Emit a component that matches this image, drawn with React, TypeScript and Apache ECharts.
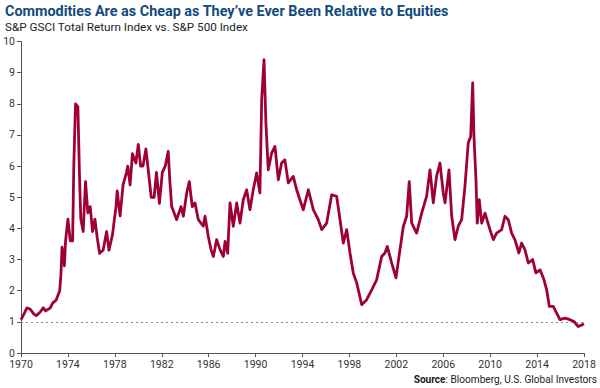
import React, { useEffect, useRef } from "react";
import * as echarts from "echarts";

const TITLE = "Commodities Are as Cheap as They’ve Ever Been Relative to Equities";
const SUBTITLE = "S&P GSCI Total Return Index vs. S&P 500 Index";
const SOURCE_LABEL = "Source";
const SOURCE_TEXT = ": Bloomberg, U.S. Global Investors";

const years: number[] = [
  1970.0, 1970.25, 1970.5, 1970.8, 1971.1, 1971.3, 1971.6, 1971.9, 1972.1, 1972.5,
  1972.7, 1973.0, 1973.3, 1973.4, 1973.5, 1973.7, 1973.8, 1974.0, 1974.2, 1974.4,
  1974.5, 1974.65, 1974.85, 1975.0, 1975.1, 1975.3, 1975.5, 1975.7, 1975.9, 1976.1,
  1976.3, 1976.5, 1976.7, 1977.0, 1977.3, 1977.5, 1977.8, 1978.1, 1978.2, 1978.45,
  1978.7, 1979.0, 1979.1, 1979.3, 1979.5, 1979.8, 1980.0, 1980.2, 1980.4, 1980.65,
  1980.9, 1981.1, 1981.35, 1981.55, 1981.8, 1982.05, 1982.3, 1982.55, 1982.7, 1982.85,
  1983.27, 1983.64, 1983.84, 1984.13, 1984.35, 1984.6, 1984.83, 1985.12, 1985.54, 1985.69,
  1985.97, 1986.2, 1986.4, 1986.68, 1986.97, 1987.25, 1987.4, 1987.62, 1987.82, 1988.1,
  1988.39, 1988.67, 1988.95, 1989.24, 1989.52, 1989.8, 1990.09, 1990.37, 1990.52, 1990.72,
  1990.88, 1991.08, 1991.37, 1991.65, 1991.94, 1992.22, 1992.5, 1992.79, 1993.21, 1993.5,
  1993.78, 1994.07, 1994.5, 1994.92, 1995.35, 1995.64, 1996.06, 1996.49, 1996.91, 1997.2,
  1997.48, 1997.77, 1998.05, 1998.33, 1998.62, 1999.05, 1999.47, 1999.9, 2000.32, 2000.75,
  2001.03, 2001.23, 2001.6, 2001.97, 2002.31, 2002.6, 2002.88, 2003.1, 2003.31, 2003.73,
  2004.16, 2004.58, 2004.87, 2005.15, 2005.43, 2005.72, 2006.0, 2006.15, 2006.49, 2006.72,
  2007.0, 2007.28, 2007.57, 2007.85, 2008.13, 2008.34, 2008.51, 2008.62, 2008.79, 2008.9,
  2009.07, 2009.28, 2009.56, 2009.98, 2010.27, 2010.55, 2010.98, 2011.26, 2011.54, 2011.83,
  2012.11, 2012.45, 2012.68, 2012.96, 2013.25, 2013.62, 2013.9, 2014.25, 2014.59, 2014.82,
  2015.04, 2015.38, 2015.67, 2015.95, 2016.38, 2016.8, 2017.14, 2017.51, 2017.8, 2018.0,
];

const ratios: number[] = [
  1.07, 1.25, 1.45, 1.4, 1.25, 1.2, 1.3, 1.45, 1.35, 1.45,
  1.6, 1.7, 2.0, 2.5, 3.4, 2.8, 3.6, 4.3, 3.6, 3.6,
  6.0, 8.0, 7.9, 5.5, 4.3, 3.9, 5.5, 4.5, 4.7, 3.9,
  4.3, 3.7, 3.2, 3.3, 3.9, 3.3, 3.8, 4.7, 5.2, 4.4,
  5.4, 5.8, 6.0, 5.4, 6.4, 6.1, 6.7, 6.0, 6.0, 6.55,
  5.7, 5.0, 5.0, 5.8, 4.8, 5.8, 6.0, 6.47, 5.46, 4.7,
  4.28, 4.7, 4.39, 5.14, 5.5, 4.7, 4.82, 4.28, 4.07, 4.39,
  3.74, 3.32, 3.1, 3.64, 3.32, 3.1, 3.58, 3.2, 4.82, 4.07,
  4.82, 4.17, 4.92, 5.24, 4.6, 5.24, 5.78, 5.14, 8.13, 9.42,
  7.38, 5.88, 6.42, 6.63, 5.56, 6.1, 6.2, 5.46, 5.67, 5.24,
  4.92, 4.6, 5.24, 4.6, 4.28, 3.96, 4.17, 5.08, 5.03, 4.28,
  3.53, 3.96, 3.21, 2.57, 2.25, 1.55, 1.71, 2.03, 2.35, 3.1,
  3.21, 3.42, 2.89, 2.41, 3.32, 4.07, 4.39, 5.5, 4.17, 3.85,
  4.49, 5.03, 5.88, 4.82, 5.67, 6.1, 5.14, 4.82, 5.88, 4.39,
  3.64, 4.07, 4.28, 5.35, 6.74, 6.95, 8.67, 6.95, 5.56, 4.17,
  4.92, 4.17, 4.49, 3.96, 3.64, 3.85, 3.96, 4.39, 4.28, 3.85,
  3.64, 3.21, 3.53, 3.32, 2.89, 3.0, 2.57, 2.67, 2.35, 2.03,
  1.5, 1.5, 1.28, 1.07, 1.12, 1.07, 1.01, 0.85, 0.9, 0.94,
];

const PARITY = 1;

const NARROW = "'Liberation Sans Narrow', 'Roboto', sans-serif";

export default function App() {
  const ref = useRef<HTMLDivElement>(null);
  useEffect(() => {
    if (!ref.current) return;
    const chart = echarts.init(ref.current, undefined, { renderer: "svg" });
    const data = years.map((y, i) => [y, ratios[i]]);
    chart.setOption({
      animation: false,
      backgroundColor: "#ffffff",
      graphic: [
        {
          type: "text",
          left: 5,
          top: 4,
          style: { text: TITLE, fontFamily: NARROW, fontWeight: "bold", fontSize: 14.4, fill: "#124a7e" },
        },
        {
          type: "text",
          left: 5,
          top: 21,
          style: { text: SUBTITLE, fontFamily: NARROW, fontWeight: "normal", fontSize: 11.7, fill: "#222" },
        },
        {
          type: "text",
          right: 3,
          top: 374,
          style: {
            text: `{b|${SOURCE_LABEL}}{n|${SOURCE_TEXT}}`,
            rich: {
              b: { fontFamily: NARROW, fontWeight: "bold", fontSize: 10.1, fill: "#222" },
              n: { fontFamily: NARROW, fontWeight: "normal", fontSize: 10.1, fill: "#222" },
            },
          },
        },
      ],
      grid: {
        left: 21,
        right: 16,
        top: 41.5,
        bottom: 35,
        containLabel: false,
        outerBoundsMode: "none",
      },
      xAxis: {
        type: "value",
        min: 1970,
        max: 2018,
        interval: 4,
        axisLine: { show: true, lineStyle: { color: "#555", width: 1 } },
        axisTick: { show: true, length: 4, lineStyle: { color: "#555" } },
        axisLabel: {
          fontFamily: NARROW,
          fontSize: 10.5,
          color: "#333",
          margin: 6,
          showMinLabel: true,
          showMaxLabel: true,
          formatter: (v: number) => String(v),
        },
        splitLine: { show: false },
      },
      yAxis: {
        type: "value",
        min: 0,
        max: 10,
        interval: 1,
        axisLine: { show: true, lineStyle: { color: "#555", width: 1 } },
        axisTick: { show: true, length: 4, lineStyle: { color: "#555" } },
        axisLabel: {
          fontFamily: NARROW,
          fontSize: 10.5,
          color: "#333",
          margin: 6,
          showMinLabel: true,
          showMaxLabel: true,
          overflow: "none",
          width: 40,
        },
        splitLine: { show: false },
      },
      series: [
        {
          type: "line",
          data,
          showSymbol: false,
          symbol: "none",
          lineStyle: { color: "#a0003a", width: 2.8, join: "round" },
          markLine: {
            silent: true,
            symbol: "none",
            label: { show: false },
            lineStyle: { color: "#888", width: 1, type: [2, 3] },
            data: [{ yAxis: PARITY }],
          },
          z: 3,
        },
      ],
    });
    return () => chart.dispose();
  }, []);
  return (
    <div
      ref={ref}
      style={{ position: "absolute", left: 0, top: 0, width: 600, height: 388 }}
    />
  );
}
